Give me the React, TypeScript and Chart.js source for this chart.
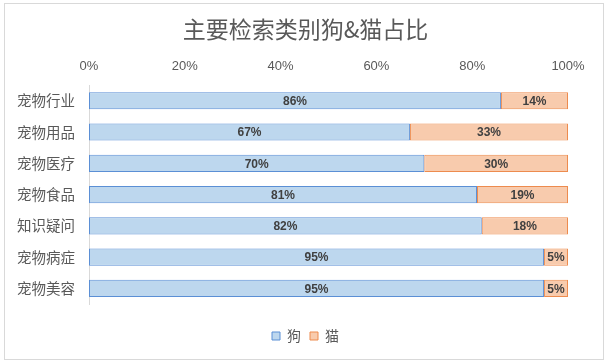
import React, { useEffect, useRef } from "react";
import { Chart, registerables } from "chart.js";

Chart.register(...registerables);

const categories = ["宠物行业", "宠物用品", "宠物医疗", "宠物食品", "知识疑问", "宠物病症", "宠物美容"];
const dogValues = [86, 67, 70, 81, 82, 95, 95];
const catValues = [14, 33, 30, 19, 18, 5, 5];
const seriesNames = ["狗", "猫"];
const titleText = "主要检索类别狗&猫占比";

const CJK = '"Noto Sans CJK SC", "Microsoft YaHei", sans-serif';
const NUM = '"Liberation Sans", Arial, "Noto Sans CJK SC", sans-serif';

const labelPlugin = {
  id: "barLabels",
  afterDatasetsDraw(chart: any) {
    const ctx = chart.ctx;
    ctx.save();
    ctx.font = `bold 12px ${NUM}`;
    ctx.fillStyle = "#404040";
    ctx.textAlign = "center";
    ctx.textBaseline = "middle";
    chart.data.datasets.forEach((ds: any, di: number) => {
      const meta = chart.getDatasetMeta(di);
      meta.data.forEach((el: any, i: number) => {
        const v = ds.data[i];
        const cx = (el.x + el.base) / 2;
        ctx.fillText(`${v}%`, cx, el.y + 1);
      });
    });
    ctx.restore();
  },
};

export default function App() {
  const ref = useRef<HTMLCanvasElement | null>(null);
  useEffect(() => {
    if (!ref.current) return;
    const chart = new Chart(ref.current, {
      type: "bar",
      data: {
        labels: categories,
        datasets: [
          {
            label: seriesNames[0],
            data: dogValues,
            backgroundColor: "#BDD7EE",
            borderColor: "#5B8FD5",
            borderWidth: 1,
            borderSkipped: false,
          },
          {
            label: seriesNames[1],
            data: catValues,
            backgroundColor: "#F8CBAD",
            borderColor: "#ED8B4E",
            borderWidth: 1,
            borderSkipped: false,
          },
        ],
      },
      options: {
        indexAxis: "y",
        animation: false,
        responsive: false,
        maintainAspectRatio: false,
        layout: { padding: { left: 0, right: 0, top: 0, bottom: 10 } },
        datasets: {
          bar: { categoryPercentage: 1, barPercentage: 0.55 },
        },
        scales: {
          x: {
            position: "top",
            stacked: true,
            min: 0,
            max: 100,
            grid: { display: false, drawTicks: false },
            border: { display: false },
            ticks: {
              stepSize: 20,
              padding: 11,
              color: "#595959",
              font: { size: 13, family: NUM },
              callback: (v: any) => `${v}%`,
            },
            afterFit: (s: any) => {
              s.height = 30;
            },
          },
          y: {
            stacked: true,
            grid: { display: false, drawTicks: false },
            border: { display: true, color: "#D9D9D9", width: 1 },
            ticks: {
              padding: 14,
              color: "#595959",
              font: { size: 14.5, family: CJK },
            },
            afterFit: (s: any) => {
              s.width = 89;
            },
          },
          yRight: {
            type: "category",
            position: "right",
            display: true,
            grid: { display: false, drawTicks: false },
            border: { display: false },
            ticks: { display: false },
            afterFit: (s: any) => {
              s.width = 43;
            },
          },
        },
        plugins: {
          title: {
            display: true,
            text: titleText,
            color: "#595959",
            font: { size: 23, family: CJK, weight: "normal" },
            padding: { top: 15.5, bottom: 12 },
          },
          legend: {
            position: "bottom",
            title: {
              display: true,
              text: "",
              font: { size: 10, lineHeight: 1 },
              padding: { top: 6, bottom: 0 },
            },
            labels: {
              boxWidth: 8,
              boxHeight: 8,
              padding: 9,
              color: "#595959",
              font: { size: 14, family: CJK },
            },
          },
          tooltip: { enabled: false },
        },
      },
      plugins: [labelPlugin],
    });
    return () => chart.destroy();
  }, []);

  return (
    <div style={{ position: "fixed", left: 0, top: 0, width: 611, height: 363, background: "#fff" }}>
      <canvas ref={ref} width={611} height={363} style={{ position: "absolute", left: 0, top: 0 }} />
      <div
        style={{
          position: "absolute",
          left: 4,
          top: 3,
          width: 598,
          height: 355,
          border: "1px solid #D9D9D9",
          pointerEvents: "none",
        }}
      />
    </div>
  );
}
